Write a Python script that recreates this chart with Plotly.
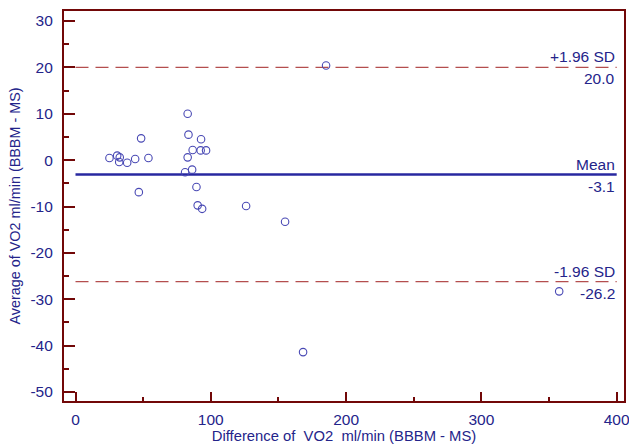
import plotly.graph_objects as go

# Data
diff_vals = [25.1, 30.8, 32.7, 32.3, 38.2, 44.1, 48.5, 53.9, 46.8, 82.9, 83.5, 92.8,
             86.6, 92.5, 96.5, 82.9, 81.0, 86.2, 89.4, 90.3, 93.6, 126.1, 185.2,
             154.9, 168.2, 357.5]
avg_vals = [0.45, 0.97, 0.6, -0.4, -0.55, 0.24, 4.7, 0.45, -6.9, 10.0, 5.5, 4.5,
            2.2, 2.1, 2.1, 0.6, -2.6, -2.05, -5.8, -9.75, -10.5, -9.9, 20.4,
            -13.3, -41.4, -28.3]

mean_val = -3.1
upper_loa = 20.0
lower_loa = -26.2
line_x = [0, 400]

x_ticks = [0, 100, 200, 300, 400]
x_ticklabels = ["0", "100", "200", "300", "400"]
y_ticks = [-50, -40, -30, -20, -10, 0, 10, 20, 30]
y_ticklabels = ["-50", "-40", "-30", "-20", "-10", "0", "10", "20", "30"]

NAVY = "#24248a"
AXIS = "#720808"
DASH = "#b44e4e"
FONT = "Liberation Sans, Arial, sans-serif"

fig = go.Figure()

fig.add_trace(go.Scatter(x=line_x, y=[upper_loa, upper_loa], mode="lines",
                         line=dict(color=DASH, width=1.4, dash="13px,7px"),
                         hoverinfo="skip", showlegend=False))
fig.add_trace(go.Scatter(x=line_x, y=[lower_loa, lower_loa], mode="lines",
                         line=dict(color=DASH, width=1.4, dash="13px,7px"),
                         hoverinfo="skip", showlegend=False))
fig.add_trace(go.Scatter(x=line_x, y=[mean_val, mean_val], mode="lines",
                         line=dict(color="#2828a0", width=2.4),
                         hoverinfo="skip", showlegend=False))

fig.add_trace(go.Scatter(x=diff_vals, y=avg_vals, mode="markers",
                         marker=dict(symbol="circle-open", size=7.5,
                                     color="#4848b4", line=dict(width=1.1, color="#4848b4")),
                         showlegend=False))

labels = [("+1.96 SD", f"{upper_loa:.1f}", upper_loa),
          ("Mean", f"{mean_val:.1f}", mean_val),
          ("-1.96 SD", f"{lower_loa:.1f}", lower_loa)]
for top, bottom, yv in labels:
    fig.add_annotation(x=line_x[1], y=yv, text=top, showarrow=False,
                       xanchor="right", yanchor="bottom", yshift=0,
                       font=dict(family=FONT, size=15.5, color=NAVY))
    fig.add_annotation(x=line_x[1], y=yv, text=bottom, showarrow=False,
                       xanchor="right", yanchor="top", yshift=-1,
                       font=dict(family=FONT, size=15.5, color=NAVY))

axis_common = dict(showgrid=False, zeroline=False, showline=True, linecolor=AXIS,
                   linewidth=2.2, mirror=True, ticks="inside", tickcolor=AXIS,
                   tickwidth=2, tickfont=dict(family=FONT, size=15.5, color=NAVY),
                   ticklabeloverflow="allow")

fig.update_xaxes(range=[-8.5, 405.4], tickvals=x_ticks, ticktext=x_ticklabels, ticklen=9,
                 minor=dict(dtick=50, tick0=0, ticks="inside", ticklen=4,
                            tickcolor=AXIS, tickwidth=1.5),
                 title=dict(text="Difference of  VO2  ml/min (BBBM - MS)",
                            font=dict(family=FONT, size=14.8, color=NAVY), standoff=4),
                 ticklabelstandoff=3, **axis_common)
fig.update_yaxes(range=[-51.94, 32.16], tickvals=y_ticks, ticktext=y_ticklabels, ticklen=11,
                 minor=dict(dtick=5, tick0=0, ticks="inside", ticklen=5,
                            tickcolor=AXIS, tickwidth=1.5),
                 title=dict(text="Average of VO2 ml/min (BBBM - MS)",
                            font=dict(family=FONT, size=14.4, color=NAVY), standoff=6),
                 ticklabelstandoff=6, **axis_common)

fig.update_layout(width=629, height=446,
                  margin=dict(l=63.5, r=5, t=10.7, b=45.3, pad=0, autoexpand=False),
                  plot_bgcolor="white", paper_bgcolor="white",
                  font=dict(family=FONT, color=NAVY))

fig.write_html("out.html", config={"displayModeBar": False},
               post_script="document.body.style.margin='0';document.body.style.overflow='hidden';")
